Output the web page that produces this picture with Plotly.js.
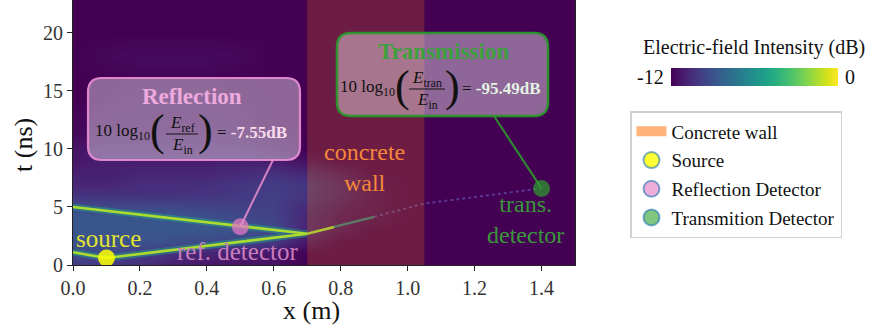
<!DOCTYPE html>
<html>
<head>
<meta charset="utf-8">
<script src="https://cdn.plot.ly/plotly-3.0.1.min.js"></script>
<style>html,body{margin:0;padding:0;background:#fff;}#chart{width:878px;height:325px;}</style>
</head>
<body>
<div id="chart"></div>
<script>
// ---------------- data ----------------
const x_cells = [0, 0.1, 0.2, 0.3, 0.4, 0.5, 0.6, 0.7, 0.8, 0.9, 1.0, 1.1, 1.2, 1.3, 1.4, 1.5];
const t_cells = [0, 1, 2, 3, 4, 5, 6, 7, 8, 9, 10, 11, 12, 14, 16, 18, 20, 23];
const intensity_db = [
  [-10,-10,-10.5,-11,-11.3,-11.5,-11.5,-12,-12,-12,-12,-12,-12,-12,-12,-12],
  [-9.3,-9.3,-9.8,-10.3,-10.8,-11,-11.3,-12,-12,-12,-12,-12,-12,-12,-12,-12],
  [-9,-9,-9,-9.2,-9.4,-9.6,-10,-11.3,-12,-12,-12,-12,-12,-12,-12,-12],
  [-8.8,-8.8,-8.8,-8.8,-8.8,-9,-9.3,-10.8,-11.5,-12,-12,-12,-12,-12,-12,-12],
  [-8.8,-8.8,-8.8,-8.8,-9,-9.3,-9.6,-10.8,-11.5,-11.7,-12,-12,-12,-12,-12,-12],
  [-9.2,-9.4,-9.4,-9.4,-9.6,-9.7,-9.8,-10.6,-11.3,-11.7,-12,-12,-12,-12,-12,-12],
  [-10.3,-10.3,-10.3,-10.3,-10.2,-10,-9.8,-10.2,-11,-11.7,-12,-12,-12,-12,-12,-12],
  [-10.8,-10.8,-10.5,-10.5,-10.4,-10.2,-9.9,-10.2,-11,-11.7,-12,-12,-12,-12,-12,-12],
  [-11,-11,-10.8,-10.8,-10.8,-10.6,-10.4,-10.8,-11.4,-12,-12,-12,-12,-12,-12,-12],
  [-11.3,-11,-11,-11,-11,-11,-11.1,-11.5,-12,-12,-12,-12,-12,-12,-12,-12],
  [-11.4,-11.3,-11.3,-11.3,-11.3,-11.3,-11.6,-12,-12,-12,-12,-12,-12,-12,-12,-12],
  [-11.7,-11.5,-11.5,-11.5,-11.5,-11.6,-11.8,-12,-12,-12,-12,-12,-12,-12,-12,-12],
  [-11.8,-11.7,-11.7,-11.7,-11.7,-11.8,-12,-12,-12,-12,-12,-12,-12,-12,-12,-12],
  [-12,-11.9,-11.8,-11.8,-11.8,-11.9,-12,-12,-12,-12,-12,-12,-12,-12,-12,-12],
  [-12,-12,-11.9,-11.9,-11.9,-12,-12,-12,-12,-12,-12,-12,-12,-12,-12,-12],
  [-12,-11.8,-11.7,-11.7,-11.7,-11.8,-12,-12,-12,-12,-12,-12,-12,-12,-12,-12],
  [-12,-12,-12,-12,-12,-12,-12,-12,-12,-12,-12,-12,-12,-12,-12,-12],
  [-12,-12,-12,-12,-12,-12,-12,-12,-12,-12,-12,-12,-12,-12,-12,-12]
];
// bright wavefront (incident + reflected)
const wave_x = [0, 0.1, 0.7, 0];
const wave_t = [1.1, 0.6, 2.7, 5.0];
// transmitted wavefront segments
const trans1_x = [0.7, 0.78];  const trans1_t = [2.7, 3.28];
const trans2_x = [0.78, 0.9];  const trans2_t = [3.28, 4.15];
const trans3_x = [0.9, 1.05, 1.4]; const trans3_t = [4.15, 5.3, 6.6];
// concrete wall extent (m)
const wall_x = [0.7, 1.05];
// detectors / source
const source_x = [0.1];  const source_t = [0.6];
const refdet_x = [0.5];  const refdet_t = [3.3];
const trandet_x = [1.4]; const trandet_t = [6.6];
// results
const reflection_db = -7.55;
const transmission_db = -95.49;
const cbar_ticks = ['-12', '0'];
const x_ticks = [0, 0.2, 0.4, 0.6, 0.8, 1.0, 1.2, 1.4];
const t_ticks = [0, 5, 10, 15, 20];

// ---------------- layout helpers ----------------
const L = 73, R = 575, TOP = 0, BOT = 265;
const XMAX = 1.5, TMAX = 22.84;
const X = px => (px - L) / (R - L) * XMAX;
const Y = py => (BOT - py) / (BOT - TOP) * TMAX;
const PX = px => (px - L) / (R - L);          // paper x
const PY = py => 1 - (py - TOP) / (BOT - TOP); // paper y
const SERIF = '"Liberation Serif", "Times New Roman", Times, serif';

function roundRect(x0, y0, x1, y1, r) { // pixel coords -> data path
  const rx = r / (R - L) * XMAX, ry = r / (BOT - TOP) * TMAX;
  const a = X(x0), b = X(x1), top = Y(y0), bot = Y(y1);
  return `M${a+rx},${top} L${b-rx},${top} Q${b},${top} ${b},${top-ry} L${b},${bot+ry} Q${b},${bot} ${b-rx},${bot} ` +
         `L${a+rx},${bot} Q${a},${bot} ${a},${bot+ry} L${a},${top-ry} Q${a},${top} ${a+rx},${top} Z`;
}

// ---------------- traces ----------------
const traces = [];
traces.push({
  type: 'heatmap', x: x_cells, y: t_cells, z: intensity_db,
  colorscale: 'Viridis', zmin: -12, zmax: 0, zsmooth: 'best',
  hoverinfo: 'skip',
  colorbar: {
    orientation: 'h', lenmode: 'pixels', len: 167, thickness: 18,
    x: PX(754.5), xanchor: 'center', y: PY(77), yanchor: 'middle',
    showticklabels: false, ticks: '', outlinewidth: 0, xpad: 0, ypad: 0
  }
});
// wavefront halo + core
traces.push({type: 'scatter', mode: 'lines', x: wave_x, y: wave_t, showlegend: false, hoverinfo: 'skip',
  line: {color: 'rgba(34,168,132,0.45)', width: 6.5}});
traces.push({type: 'scatter', mode: 'lines', x: wave_x, y: wave_t, showlegend: false, hoverinfo: 'skip',
  line: {color: '#addc30', width: 2.6}});
traces.push({type: 'scatter', mode: 'lines', x: trans1_x, y: trans1_t, showlegend: false, hoverinfo: 'skip',
  line: {color: '#9bd93c', width: 2.6}});
traces.push({type: 'scatter', mode: 'lines', x: trans2_x, y: trans2_t, showlegend: false, hoverinfo: 'skip',
  line: {color: 'rgba(42,160,140,0.75)', width: 2.2}});
traces.push({type: 'scatter', mode: 'lines', x: trans3_x, y: trans3_t, showlegend: false, hoverinfo: 'skip',
  line: {color: 'rgba(110,110,210,0.5)', width: 2, dash: 'dot'}});
// concrete wall (plot)
traces.push({type: 'scatter', mode: 'lines', showlegend: false,
  x: [wall_x[0], wall_x[1], wall_x[1], wall_x[0], wall_x[0]],
  y: [-1, -1, 100, 100, -1], fill: 'toself',
  fillcolor: 'rgba(255,127,14,0.22)', line: {width: 0, color: 'rgba(0,0,0,0)'}, hoverinfo: 'skip'});
// markers in plot
traces.push({type: 'scatter', mode: 'markers', x: source_x, y: source_t, showlegend: false, hoverinfo: 'skip',
  marker: {size: 17, color: 'rgba(255,255,0,0.85)'}});
traces.push({type: 'scatter', mode: 'markers', x: refdet_x, y: refdet_t, showlegend: false, hoverinfo: 'skip',
  marker: {size: 17, color: 'rgba(227,119,194,0.75)'}});
traces.push({type: 'scatter', mode: 'markers', x: trandet_x, y: trandet_t, showlegend: false, hoverinfo: 'skip',
  marker: {size: 17, color: 'rgba(44,160,44,0.7)'}});
// legend entries
const edge = {color: 'rgba(31,119,180,0.6)', width: 2};
traces.push({type: 'scatter', mode: 'lines', name: 'Concrete wall', legendgroup: 'g1', x: [null], y: [null],
  line: {color: 'rgba(255,160,90,0.8)', width: 16}});
traces.push({type: 'scatter', mode: 'markers', name: 'Source', legendgroup: 'g2', x: [null], y: [null],
  marker: {size: 16, color: 'rgba(255,255,0,0.8)', line: edge}});
traces.push({type: 'scatter', mode: 'markers', name: 'Reflection Detector', legendgroup: 'g3', x: [null], y: [null],
  marker: {size: 16, color: 'rgba(227,119,194,0.6)', line: edge}});
traces.push({type: 'scatter', mode: 'markers', name: 'Transmition Detector', legendgroup: 'g4', x: [null], y: [null],
  marker: {size: 16, color: 'rgba(44,160,44,0.6)', line: edge}});

// ---------------- shapes ----------------
const shapes = [
  {type: 'line', xref: 'x', yref: 'y', x0: X(273), y0: Y(160), x1: refdet_x[0], y1: refdet_t[0],
   line: {color: 'rgba(227,140,205,0.9)', width: 2}, layer: 'above'},
  {type: 'line', xref: 'x', yref: 'y', x0: X(494), y0: Y(116), x1: trandet_x[0], y1: trandet_t[0],
   line: {color: 'rgba(44,150,44,0.95)', width: 2}, layer: 'above'},
  {type: 'path', xref: 'x', yref: 'y', path: roundRect(88, 78, 300, 160, 14),
   fillcolor: 'rgba(255,255,255,0.4)', line: {color: 'rgba(230,140,210,0.95)', width: 2.2}, layer: 'above'},
  {type: 'path', xref: 'x', yref: 'y', path: roundRect(337, 33, 548, 116, 14),
   fillcolor: 'rgba(255,255,255,0.4)', line: {color: 'rgba(44,150,44,0.95)', width: 2.5}, layer: 'above'},
  // fraction bars
  {type: 'line', xref: 'x', yref: 'y', x0: X(166), x1: X(198), y0: Y(134), y1: Y(134),
   line: {color: '#111', width: 1}, layer: 'above'},
  {type: 'line', xref: 'x', yref: 'y', x0: X(409), x1: X(445), y0: Y(89), y1: Y(89),
   line: {color: '#111', width: 1}, layer: 'above'}
];

// ---------------- annotations ----------------
function ann(px, py, text, size, color, extra) {
  return Object.assign({xref: 'x', yref: 'y', x: X(px), y: Y(py), text: text, showarrow: false,
    font: {family: SERIF, size: size, color: color}, xanchor: 'center', yanchor: 'middle'}, extra || {});
}
const PAREN = {family: SERIF, size: 44, color: '#111'};
const annotations = [
  ann(108, 238, 'source', 25, '#e3e332'),
  ann(237, 251, 'ref. detector', 25, '#c97dbd'),
  ann(364, 167, 'concrete<br>wall', 24, '#f5883a'),
  ann(525, 219, 'trans.<br>detector', 24, '#3a983a'),
  // Reflection box
  ann(192, 96, '<b>Reflection</b>', 23, '#eeaadd'),
  ann(152, 132, '10 log<sub>10</sub>', 17, '#111', {xanchor: 'right'}),
  ann(157, 130, '(', 44, '#111', {font: PAREN}),
  ann(182, 124, '<i>E</i><sub>ref</sub>', 17, '#111'),
  ann(182, 146, '<i>E</i><sub>in</sub>', 17, '#111'),
  ann(205, 130, ')', 44, '#111', {font: PAREN}),
  ann(215, 132, '= <b><span style="color:#f8dcec">' + reflection_db.toFixed(2) + 'dB</span></b>', 17, '#111', {xanchor: 'left'}),
  // Transmission box
  ann(443, 51, '<b>Transmission</b>', 23, '#3ca03c'),
  ann(397, 88, '10 log<sub>10</sub>', 17, '#111', {xanchor: 'right'}),
  ann(402, 86, '(', 44, '#111', {font: PAREN}),
  ann(427, 79, '<i>E</i><sub>tran</sub>', 17, '#111'),
  ann(427, 101, '<i>E</i><sub>in</sub>', 17, '#111'),
  ann(452, 86, ')', 44, '#111', {font: PAREN}),
  ann(460, 88, '= <b><span style="color:#e4f2e4">' + transmission_db.toFixed(2) + 'dB</span></b>', 17, '#111', {xanchor: 'left'}),
  // axis titles
  {xref: 'paper', yref: 'paper', x: PX(311), y: PY(310), text: 'x (m)', showarrow: false,
   font: {family: SERIF, size: 26, color: '#111'}, xanchor: 'center', yanchor: 'middle'},
  {xref: 'paper', yref: 'paper', x: PX(23), y: PY(145), text: 't (ns)', showarrow: false, textangle: -90,
   font: {family: SERIF, size: 26, color: '#111'}, xanchor: 'center', yanchor: 'middle'},
  // colorbar labels
  {xref: 'paper', yref: 'paper', x: PX(754), y: PY(48), text: 'Electric-field Intensity (dB)', showarrow: false,
   font: {family: SERIF, size: 20, color: '#111'}, xanchor: 'center', yanchor: 'middle'},
  {xref: 'paper', yref: 'paper', x: PX(666), y: PY(77), text: cbar_ticks[0], showarrow: false,
   font: {family: SERIF, size: 20, color: '#111'}, xanchor: 'right', yanchor: 'middle'},
  {xref: 'paper', yref: 'paper', x: PX(843), y: PY(77), text: cbar_ticks[1], showarrow: false,
   font: {family: SERIF, size: 20, color: '#111'}, xanchor: 'left', yanchor: 'middle'}
];

const layout = {
  width: 878, height: 325,
  margin: {l: L, r: 878 - R, t: TOP, b: 325 - BOT},
  paper_bgcolor: '#fff', plot_bgcolor: '#440154',
  font: {family: SERIF, size: 20, color: '#111'},
  xaxis: {range: [0, XMAX], tickvals: x_ticks, tickformat: '.1f', ticks: 'outside', ticklen: 5, tickcolor: '#222',
    showline: true, mirror: true, linecolor: '#222', linewidth: 1, showgrid: false, zeroline: false,
    tickfont: {family: SERIF, size: 20, color: '#333'}},
  yaxis: {range: [0, TMAX], tickvals: t_ticks, ticks: 'outside', ticklen: 5, tickcolor: '#222',
    showline: true, mirror: true, linecolor: '#222', linewidth: 1, showgrid: false, zeroline: false,
    tickfont: {family: SERIF, size: 20, color: '#333'}},
  showlegend: true,
  legend: {x: PX(630), y: PY(111), xanchor: 'left', yanchor: 'top', bgcolor: '#fff',
    bordercolor: '#d0d0d0', borderwidth: 1.5, font: {family: SERIF, size: 19, color: '#111'},
    traceorder: 'grouped', tracegroupgap: 1},
  shapes: shapes,
  annotations: annotations
};

Plotly.newPlot('chart', traces, layout, {staticPlot: true, displayModeBar: false});
</script>
</body>
</html>
